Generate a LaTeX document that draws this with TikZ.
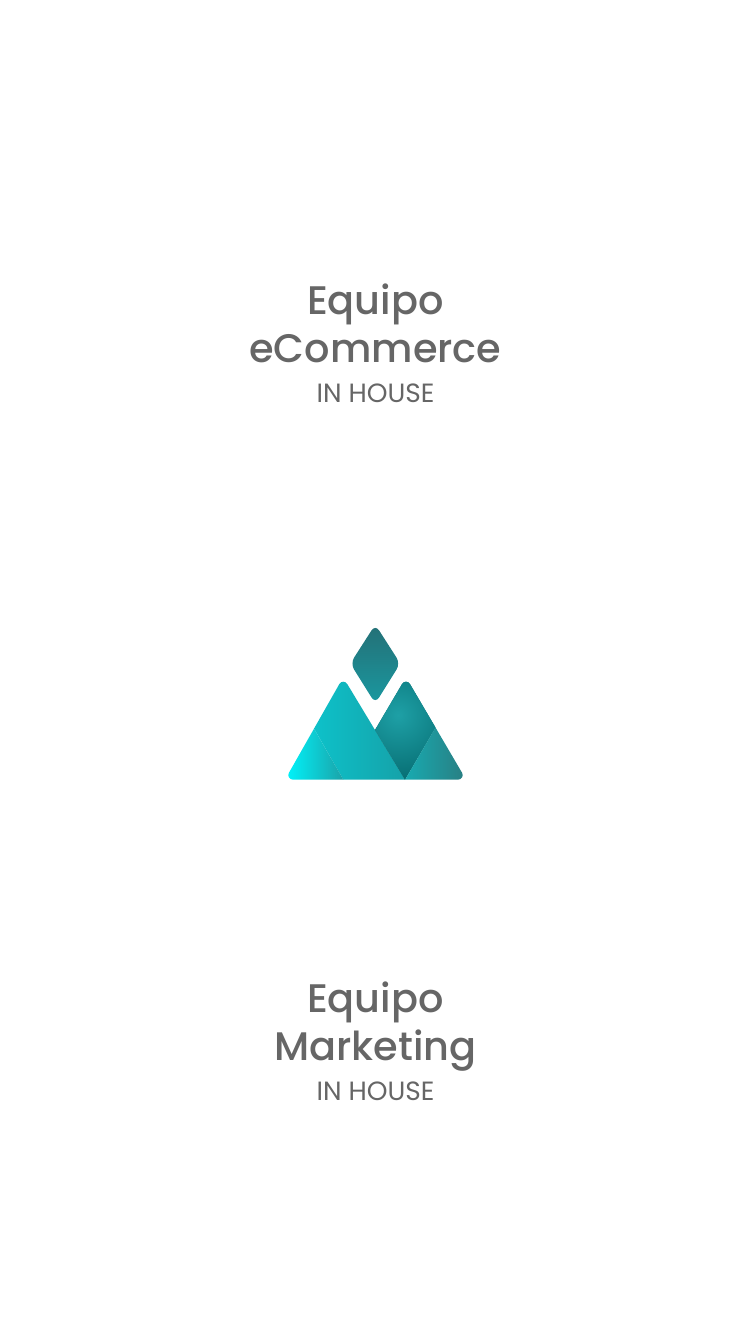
\documentclass[tikz,border=0pt]{standalone}
\usepackage{fontspec}
\setmainfont{Poppins Medium}
\newfontfamily\subfont{Poppins}
\definecolor{txt}{RGB}{102,102,102}
\definecolor{cyanA}{RGB}{0,245,252}
\definecolor{cyanB}{RGB}{28,160,166}
\definecolor{bandT}{RGB}{22,160,167}
\definecolor{bandB}{RGB}{12,198,206}
\definecolor{midC}{RGB}{30,160,166}
\definecolor{midD}{RGB}{6,108,113}
\definecolor{rgtA}{RGB}{24,170,176}
\definecolor{rgtB}{RGB}{42,124,128}
\definecolor{dimT}{RGB}{36,112,118}
\definecolor{dimB}{RGB}{26,152,160}
\tikzset{
  title/.style={anchor=base,text=txt,font=\fontsize{40}{40}\selectfont,inner sep=0pt},
  subtitle/.style={anchor=base,text=txt,font=\subfont\fontsize{26.5}{26.5}\selectfont,inner sep=0pt},
}
\begin{document}
\begin{tikzpicture}[x=1bp,y=-1bp]
\useasboundingbox (0,0) rectangle (750,1334);
\fill[white] (0,0) rectangle (750,1334);
\node[title] (t1) at (375.4,314.5) {Equipo};
\node[title] (t2) at (375.4,362.5) {eCommerce};
\node[subtitle] (s1) at (375.5,402) {IN HOUSE};
\node[title] (t3) at (375.4,1012.5) {Equipo};
\node[title] (t4) at (375.4,1060.5) {Marketing};
\node[subtitle] (s2) at (375.5,1100) {IN HOUSE};
% diamond
\shade[top color=dimT,bottom color=dimB,rounded corners=7bp]
  (375.3,624.5) -- (400.3,663.5) -- (375.3,703.5) -- (350.3,663.5) -- cycle;
% mountains
\begin{scope}
\clip (292.8,779.6) .. controls (289.34,779.6) and (287.17,775.85) .. (288.9,772.85) -- (339.4,683.95)
  .. controls (341.13,680.95) and (345.47,680.95) .. (347.2,683.95) -- (375,730) -- (402.1,683.95)
  .. controls (403.83,680.95) and (408.17,680.95) .. (409.9,683.95) -- (462.1,772.85)
  .. controls (463.83,775.85) and (461.66,779.6) .. (458.2,779.6) -- cycle;
\begin{scope}
\clip (305,712.9) -- (300,660) -- (380,660) -- (375,730) -- (405,779.6) -- (343.3,779.6) -- cycle;
\shade[shading angle=60,left color=bandB,right color=bandT] (300,675) rectangle (410,785);
\end{scope}
\begin{scope}
\clip (305,712.9) -- (343.3,779.6) -- (270,785) -- (270,712.9) -- cycle;
\shade[shading angle=55,left color=cyanA,right color=cyanB] (285,722) rectangle (345,782);
\end{scope}
\begin{scope}
\clip (375,730) -- (370,660) -- (445,660) -- (445,711.2) -- (405,779.6) -- cycle;
\fill[midD] (360,660) rectangle (450,785);
\shade[inner color=midC,outer color=midD] (398,715) circle (68);
\end{scope}
\begin{scope}
\clip (445,711.2) -- (480,711.2) -- (480,785) -- (402,785) -- cycle;
\shade[shading angle=60,left color=rgtA,right color=rgtB] (405,725) rectangle (468,785);
\end{scope}
\end{scope}
\end{tikzpicture}
\end{document}
